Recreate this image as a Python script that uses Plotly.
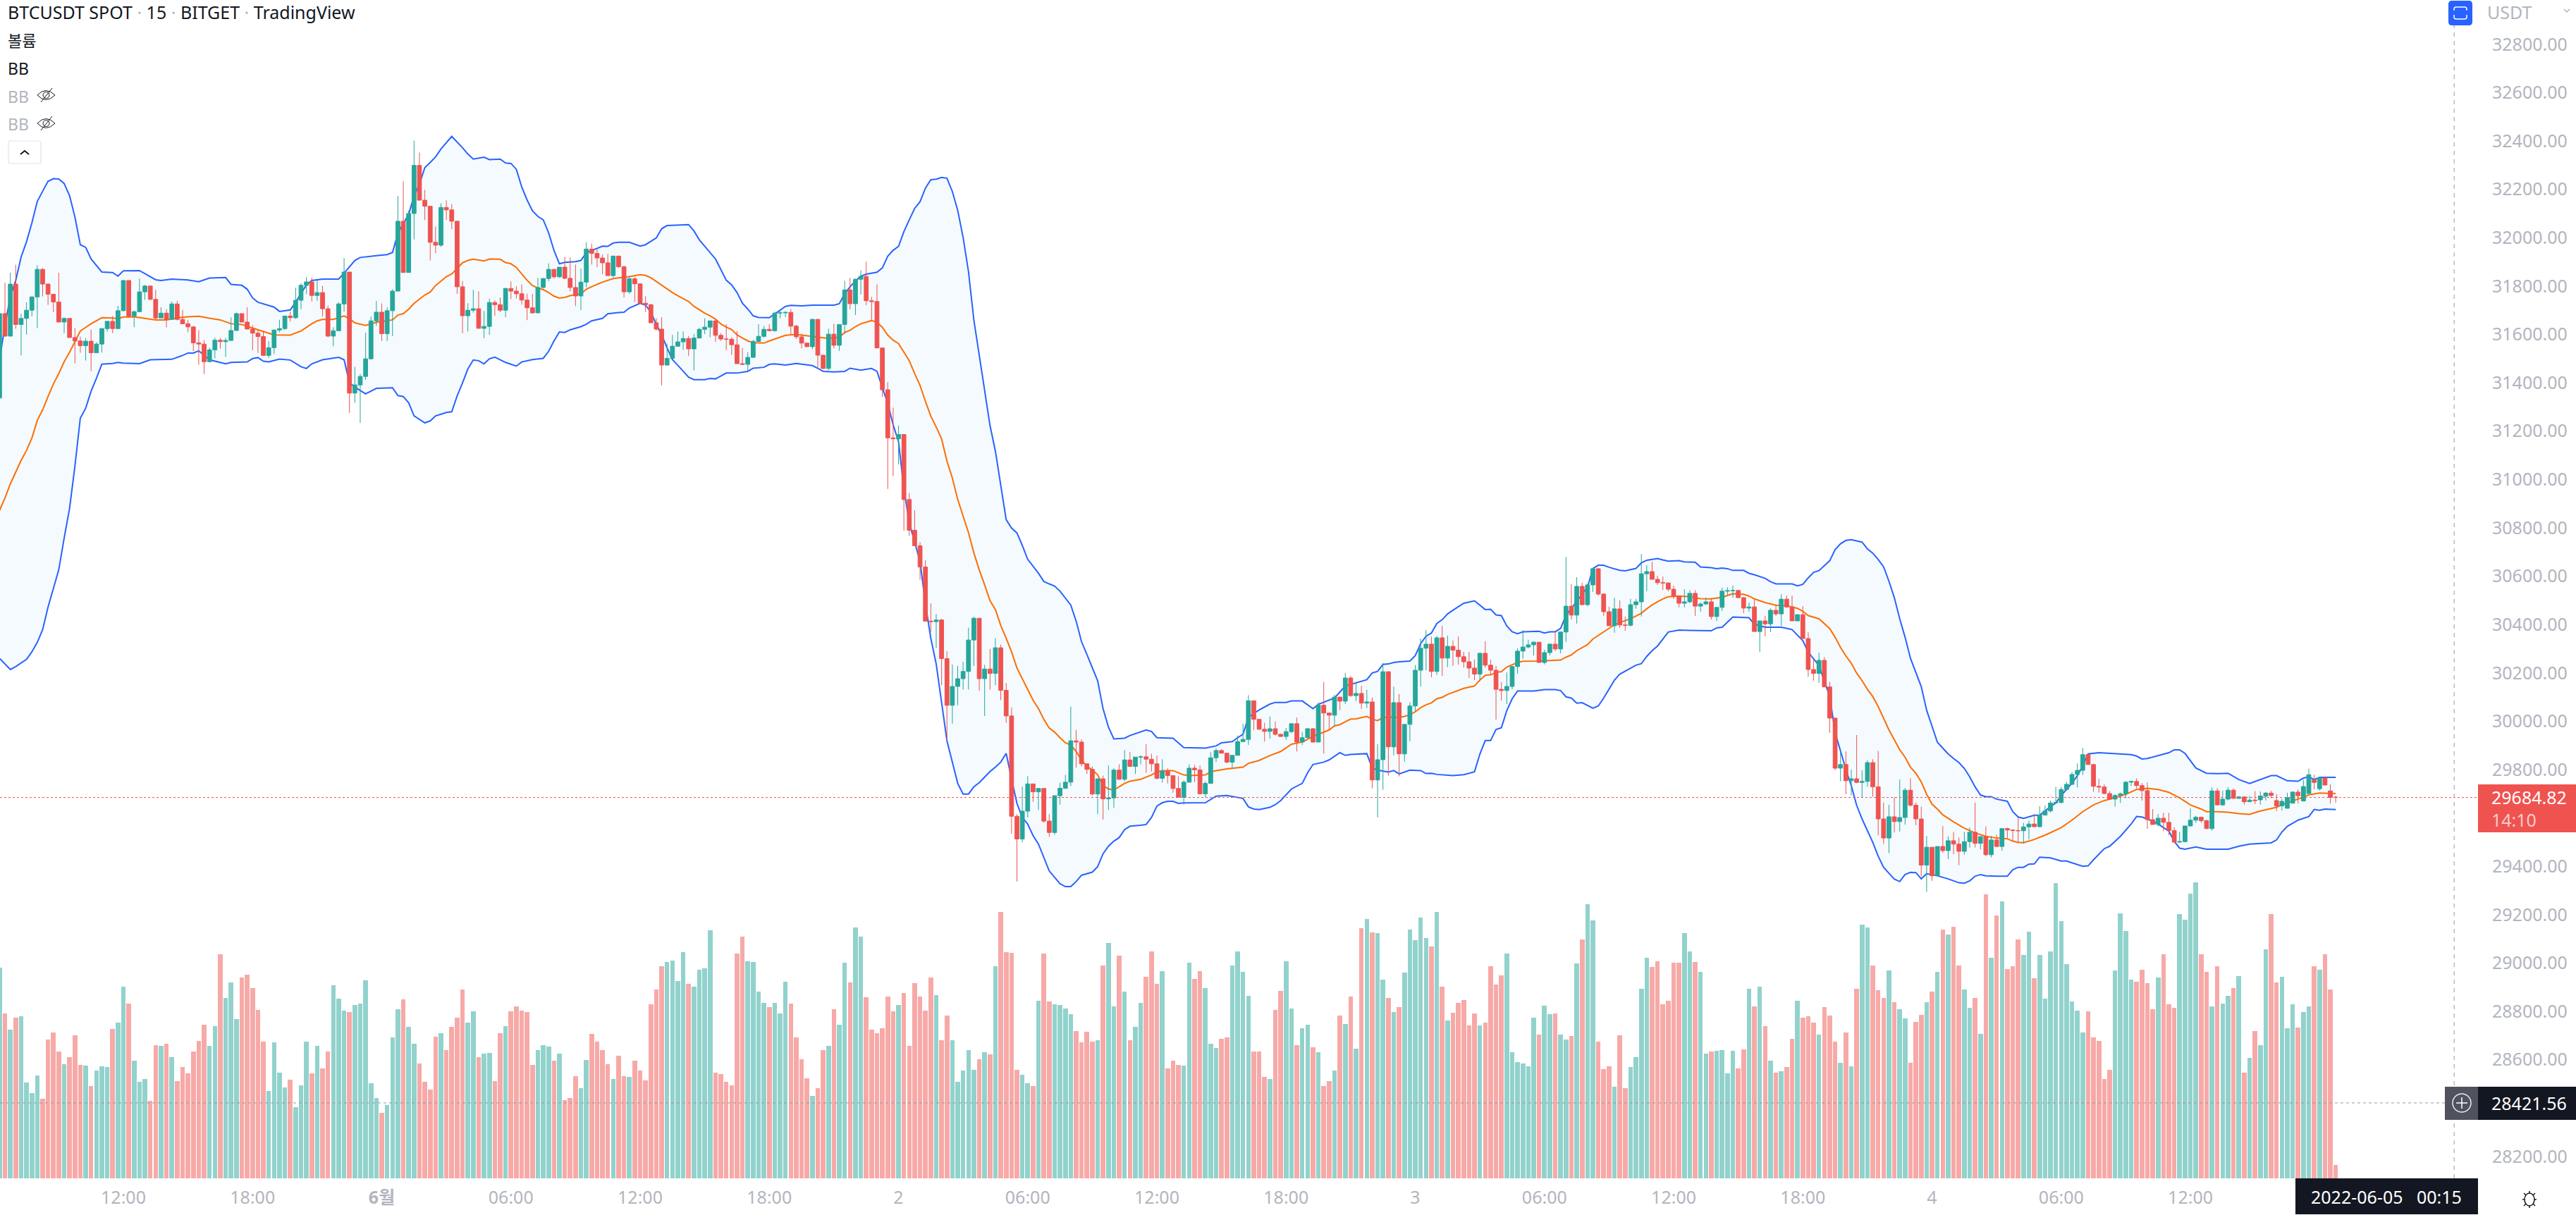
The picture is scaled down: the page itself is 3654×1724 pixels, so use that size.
import pandas as pd
import plotly.graph_objects as go

# 15-minute BTCUSDT bars, first bar opens at 06:15 on 31 May 2022
FIRST_BAR = "2022-05-31 06:15"
FIRST_OPEN = 31337
OPEN_GAPS = {420: 29675, 421: 29690, 422: 29703, 423: 29672, 424: 29650, 425: 29640, 426: 29661,
             427: 29707, 428: 29670, 429: 29701, 430: 29757, 431: 29721, 432: 29766, 433: 29712,
             434: 29686}

closes = [
31686,31593,31808,31641,31666,31700,31755,31869,31808,31766,
31734,31651,31666,31587,31573,31553,31572,31524,31560,31624,
31654,31624,31698,31823,31676,31694,31776,31800,31745,31668,
31688,31662,31726,31662,31644,31631,31565,31560,31487,31536,
31576,31570,31575,31616,31686,31651,31622,31605,31591,31513,
31545,31618,31624,31676,31669,31741,31803,31817,31761,31773,
31706,31593,31615,31726,31858,31357,31391,31426,31499,31656,
31692,31603,31698,31779,32068,31856,32100,32299,32155,32130,
31981,31969,32125,32115,32068,31797,31677,31700,31706,31625,
31633,31732,31723,31700,31790,31779,31768,31742,31710,31689,
31794,31831,31869,31838,31878,31832,31794,31759,31816,31953,
31935,31916,31896,31843,31924,31880,31776,31830,31809,31729,
31723,31648,31622,31473,31501,31551,31569,31583,31540,31585,
31621,31630,31656,31596,31581,31580,31557,31479,31476,31505,
31571,31592,31621,31615,31688,31689,31691,31634,31590,31564,
31549,31662,31514,31459,31601,31555,31641,31784,31727,31828,
31840,31739,31736,31544,31371,31172,31168,31186,30917,30790,
30726,30638,30414,30412,30419,30259,30066,30144,30176,30206,
30336,30426,30176,30216,30198,30304,30128,30022,29607,29513,
29628,29741,29708,29722,29587,29540,29692,29723,29748,29919,
29914,29824,29801,29699,29762,29679,29683,29798,29760,29840,
29813,29852,29853,29843,29824,29764,29794,29775,29722,29686,
29748,29806,29799,29700,29743,29849,29879,29868,29831,29859,
29916,29925,30085,30008,29967,29958,29969,29946,29937,29957,
29990,29914,29932,29969,29914,30066,30034,30025,30100,30083,
30179,30106,30115,30075,30080,29757,29841,30205,29894,30077,
29865,29987,30063,30211,30302,30319,30206,30345,30261,30310,
30294,30267,30246,30220,30195,30281,30232,30211,30132,30127,
30144,30226,30290,30307,30316,30327,30243,30284,30319,30299,
30369,30476,30439,30558,30482,30564,30631,30526,30453,30395,
30465,30398,30397,30482,30494,30610,30619,30587,30573,30572,
30546,30517,30488,30494,30529,30476,30485,30494,30433,30471,
30538,30540,30541,30511,30468,30473,30371,30415,30403,30459,
30444,30505,30473,30415,30441,30342,30214,30198,30252,30142,
30013,29806,29821,29754,29762,29747,29751,29829,29729,29596,
29517,29605,29585,29602,29715,29653,29596,29405,29479,29361,
29482,29465,29506,29492,29462,29502,29541,29495,29523,29448,
29509,29482,29556,29550,29548,29547,29563,29575,29564,29612,
29629,29662,29664,29718,29739,29780,29797,29862,29821,29731,
29728,29701,29678,29693,29700,29748,29751,29734,29713,29593,
29573,29599,29582,29548,29500,29502,29567,29591,29603,29589,
29556,29712,29654,29678,29715,29681,29687,29667,29674,29672,
29691,29703,29693,29650,29669,29684,29707,29692,29730,29779,
29747,29767,29736,29685,29684.82]

highs = [
31700,31814,31855,31888,31686,31733,31757,31886,31874,31811,
31767,31855,31670,31666,31626,31591,31585,31620,31567,31626,
31656,31676,31718,31823,31823,31698,31831,31805,31802,31785,
31712,31704,31736,31739,31701,31660,31634,31617,31576,31545,
31586,31585,31585,31670,31690,31686,31712,31638,31617,31614,
31572,31620,31660,31678,31694,31793,31811,31837,31835,31823,
31801,31719,31629,31733,31916,31858,31466,31436,31607,31674,
31738,31728,31712,31787,32173,32233,32112,32402,32352,32198,
32132,32046,32142,32154,32139,32070,31821,31729,31784,31778,
31697,31748,31741,31752,31792,31819,31799,31807,31768,31768,
31833,31833,31894,31869,31878,31920,31918,31889,31872,31981,
31976,31952,31930,31933,31924,31924,31883,31841,31836,31811,
31758,31726,31666,31671,31562,31598,31612,31612,31593,31601,
31627,31667,31656,31661,31605,31642,31588,31614,31544,31527,
31578,31642,31634,31642,31693,31700,31695,31705,31640,31603,
31564,31665,31665,31516,31624,31644,31641,31822,31834,31831,
31865,31901,31755,31807,31545,31403,31297,31223,31186,30944,
30873,30741,30666,30488,30444,30423,30290,30234,30229,30246,
30387,30432,30426,30234,30299,30343,30317,30158,30057,29616,
29730,29773,29741,29722,29722,29616,29692,29746,29778,30061,
29964,29925,29824,29813,29762,29775,29817,29806,29822,29881,
29873,29852,29858,29905,29866,29858,29843,29805,29776,29773,
29755,29822,29819,29817,29752,29872,29888,29884,29870,29859,
29941,29990,30108,30085,30009,29994,30020,29999,29948,29972,
29990,30015,29955,29972,29972,30078,30163,30036,30110,30100,
30200,30187,30156,30146,30130,30098,29905,30241,30205,30143,
30112,29987,30078,30232,30342,30377,30350,30353,30395,30354,
30334,30351,30287,30287,30255,30284,30331,30255,30229,30162,
30202,30229,30302,30377,30337,30331,30327,30296,30321,30374,
30371,30680,30567,30596,30573,30569,30634,30634,30529,30473,
30511,30500,30433,30506,30506,30692,30645,30660,30602,30599,
30575,30561,30520,30546,30542,30542,30491,30511,30509,30471,
30552,30554,30561,30542,30514,30491,30503,30415,30436,30467,
30481,30526,30520,30520,30441,30476,30368,30255,30283,30265,
30163,30016,29877,29875,29800,29943,29797,29839,29843,29877,
29664,29654,29686,29759,29724,29764,29664,29647,29526,29479,
29482,29567,29524,29542,29519,29543,29560,29664,29524,29565,
29526,29531,29558,29560,29553,29601,29580,29589,29616,29649,
29652,29672,29729,29729,29749,29790,29826,29890,29865,29824,
29762,29739,29711,29698,29705,29752,29754,29764,29744,29747,
29637,29616,29621,29621,29562,29542,29567,29640,29609,29603,
29593,29726,29724,29713,29727,29722,29691,29688,29691,29711,
29710,29707,29712,29699,29679,29704,29710,29718,29757,29804,
29779,29767,29766,29739,29692]

lows = [
31330,31590,31591,31623,31513,31599,31674,31626,31757,31722,
31692,31651,31605,31587,31480,31524,31492,31448,31524,31525,
31611,31605,31624,31695,31668,31630,31692,31743,31742,31659,
31668,31629,31662,31658,31644,31609,31531,31474,31436,31486,
31501,31541,31507,31572,31615,31650,31622,31534,31523,31513,
31503,31519,31609,31618,31653,31664,31704,31767,31736,31739,
31674,31588,31551,31615,31694,31275,31317,31234,31412,31498,
31635,31573,31573,31593,31778,31856,31856,31993,32155,32073,
31906,31936,31962,32074,32035,31768,31605,31612,31690,31625,
31584,31598,31677,31692,31671,31746,31748,31723,31659,31686,
31689,31790,31820,31831,31834,31828,31778,31717,31700,31794,
31889,31878,31849,31843,31836,31875,31753,31768,31734,31729,
31692,31648,31615,31389,31473,31500,31549,31535,31510,31450,
31583,31601,31588,31569,31573,31535,31515,31479,31476,31447,
31503,31569,31587,31615,31612,31666,31671,31601,31581,31542,
31549,31538,31464,31457,31452,31542,31532,31603,31703,31680,
31765,31721,31656,31544,31342,30961,31014,31062,30788,30767,
30726,30585,30414,30370,30303,30149,29919,29990,30066,30131,
30131,30229,30126,30022,30131,30149,30087,29994,29535,29337,
29499,29602,29667,29633,29580,29522,29531,29655,29720,29732,
29808,29813,29782,29693,29616,29593,29633,29642,29757,29752,
29813,29782,29822,29787,29792,29760,29746,29743,29704,29685,
29655,29746,29748,29700,29686,29743,29831,29866,29826,29808,
29858,29914,29902,29964,29964,29916,29928,29941,29935,29923,
29951,29875,29902,29930,29911,29914,29866,29964,29981,30046,
30071,30101,30083,30051,30054,29723,29602,29717,29775,29859,
29772,29833,29917,30041,30144,30211,30182,30192,30188,30224,
30229,30234,30222,30179,30170,30170,30222,30194,30007,30086,
30071,30132,30197,30258,30302,30272,30243,30235,30272,30290,
30281,30328,30421,30404,30482,30476,30535,30520,30436,30395,
30366,30386,30374,30392,30465,30433,30538,30587,30564,30543,
30537,30506,30471,30471,30488,30436,30453,30481,30421,30415,
30456,30523,30511,30511,30447,30453,30371,30287,30351,30369,
30436,30395,30468,30415,30415,30342,30184,30168,30158,30142,
29952,29797,29752,29698,29693,29744,29686,29729,29688,29529,
29492,29455,29540,29544,29572,29647,29570,29358,29294,29340,
29358,29456,29430,29450,29405,29448,29478,29478,29470,29442,
29437,29480,29465,29516,29504,29496,29494,29511,29562,29562,
29624,29623,29660,29660,29713,29737,29726,29778,29821,29708,
29705,29698,29674,29647,29662,29681,29732,29722,29672,29555,
29573,29565,29545,29529,29499,29497,29499,29565,29580,29580,
29554,29548,29652,29650,29673,29681,29679,29655,29667,29657,
29655,29672,29682,29629,29631,29640,29661,29660,29670,29701,
29718,29713,29736,29660,29664]

volumes = [
896,701,633,684,690,408,363,438,339,591,621,540,486,516,609,483,480,393,459,477,
474,636,663,816,744,501,411,423,330,567,564,573,516,414,474,447,540,585,654,564,
648,954,768,834,678,855,867,810,717,582,372,579,450,387,420,303,396,582,447,564,
468,540,822,765,714,708,738,744,843,405,342,279,312,600,720,762,645,573,489,411,
378,603,618,546,645,684,804,663,711,516,531,534,414,618,648,711,732,714,708,483,
546,567,561,501,531,333,342,435,384,504,615,582,546,486,423,522,435,432,501,459,
417,741,804,903,921,927,840,963,828,816,888,894,1056,450,444,411,396,957,1029,924,
921,795,747,729,747,702,837,744,600,507,426,351,384,546,564,720,654,918,834,1068,
1029,771,633,618,639,774,711,738,789,564,831,774,714,855,780,588,693,588,411,459,
546,462,507,537,528,903,1134,963,960,462,441,405,393,756,957,753,741,738,723,699,
627,579,624,582,588,906,1002,732,948,795,588,645,747,858,966,828,882,468,501,483,
480,918,849,882,810,573,555,594,600,906,966,879,777,540,540,432,423,717,798,924,
723,567,639,654,558,537,393,414,459,693,657,774,552,1065,1104,1047,1044,846,768,708,
729,876,1059,1014,1110,1023,987,1134,816,672,705,747,759,651,702,651,663,903,825,864,
957,537,495,489,477,684,612,735,699,702,612,591,606,915,1017,1167,1098,582,465,477,
390,609,384,474,516,807,939,900,924,741,756,918,918,1044,966,921,879,531,540,543,
546,447,543,468,549,807,732,816,648,501,450,456,474,594,756,684,690,663,612,729,
693,582,492,621,477,807,1080,1068,906,801,768,885,750,720,681,492,666,696,750,795,
879,1059,1038,1071,906,804,726,768,615,1209,939,1119,1179,891,903,1017,951,1050,852,951,
765,966,1257,1095,912,753,714,621,711,600,585,423,462,885,1128,1053,846,837,888,831,
720,855,954,741,726,1125,1101,1212,1261,954,879,732,903,744,777,810,861,450,513,627,
567,975,1125,834,858,639,741,642,708,732,903,888,954,804,57]

# Bollinger band vertices, as (bar number, price) pairs kept in parallel lists
bb_upper_bars = [0,1,2,3,4,5,6,7,8,9,10,11,12,13,14,15,16,17,19,21,22,23,26,29,30,32,35,37,39,42,43,45,46,47,48,51,52,54,55,57,58,60,63,64,66,67,70,72,73,74,76,77,78,79,80,81,
82,84,86,87,88,90,91,93,94,95,96,97,98,99,100,101,102,103,104,105,107,108,109,111,112,113,114,115,117,119,120,122,123,124,128,129,130,133,134,135,136,137,138,139,140,141,143,144,146,147,149,151,153,155,156,157,158,159,160,161,163,164,165,166,167,
168,169,170,171,172,173,174,175,176,177,178,179,180,181,182,183,184,185,186,187,188,189,190,191,193,194,195,196,197,199,200,201,202,204,205,206,207,209,210,213,214,215,218,220,224,226,227,229,230,231,232,234,236,237,239,240,242,244,245,247,248,
250,252,254,255,256,257,258,259,260,262,263,264,265,266,267,268,269,270,272,274,276,277,278,279,280,281,282,283,286,287,288,289,290,291,292,293,295,296,297,298,299,301,302,304,305,306,308,309,310,312,313,315,316,318,319,320,321,322,324,325,326,328,329,330,332,333,
334,335,336,337,338,339,340,341,342,343,344,345,346,347,348,349,350,351,352,353,354,355,356,357,358,359,360,361,362,363,364,365,366,367,368,369,370,371,373,374,375,376,378,379,381,382,383,385,386,387,388,390,393,396,397,398,399,401,403,404,405,406,408,410,412,414,416,418,420,422,423,425,427,428,429,430,431,434]
bb_upper = [31495,31638,31757,31823,31920,31983,32061,32150,32192,32233,32244,32243,32224,32174,32085,31971,31960,31912,31858,31856,31841,31863,31864,31826,31823,31829,31825,31818,31833,31835,31807,31803,31787,31751,31733,31713,31695,31701,31733,31805,31823,31829,31829,31853,31906,31918,31926,31930,31939,32019,32096,32174,32221,32290,32311,32334,
32367,32419,32372,32346,32325,32333,32323,32325,32309,32307,32283,32210,32156,32111,32088,32074,32020,31947,31892,31898,31901,31906,31938,31957,31965,31964,31978,31981,31981,31965,31971,31999,32037,32050,32054,32028,31991,31912,31868,31824,31805,31773,31729,31705,31677,31670,31669,31685,31716,31720,31718,31721,31720,31721,31727,31768,31797,31821,31841,31849,31857,31875,31923,31948,31964,
32025,32074,32121,32149,32205,32240,32242,32249,32246,32191,32113,32001,31860,31659,31509,31359,31223,31117,30970,30834,30799,30779,30727,30670,30612,30578,30568,30559,30538,30481,30414,30329,30276,30167,30052,29976,29927,29930,29941,29964,29958,29932,29930,29891,29889,29898,29911,29916,29932,29946,30017,30047,30071,30078,30078,30084,30084,30052,30070,30087,30096,
30146,30158,30172,30200,30206,30235,30237,30243,30246,30249,30272,30321,30352,30365,30404,30420,30444,30459,30488,30498,30462,30463,30440,30437,30394,30370,30362,30370,30372,30365,30370,30370,30384,30438,30467,30496,30554,30632,30645,30645,30637,30624,30622,30632,30655,30666,30673,30667,30662,30664,30659,30658,30638,30635,30631,30634,30631,30624,30624,30612,30606,30591,30577,30568,30567,30568,
30560,30566,30593,30616,30623,30644,30664,30710,30734,30748,30751,30746,30741,30713,30695,30669,30639,30579,30511,30424,30347,30260,30199,30143,30046,29979,29913,29889,29865,29846,29829,29805,29770,29729,29695,29688,29688,29678,29669,29626,29604,29598,29611,29611,29647,29662,29693,29744,29775,29816,29865,29870,29865,29862,29856,29844,29846,29859,29870,29882,29882,29867,29807,29785,29783,29785,29759,29743,29759,29775,29775,29754,29752,29765,29770,29759,29768,29768]

bb_basis_bars = [0,1,2,3,4,5,6,7,8,9,10,11,12,13,14,15,16,17,19,21,22,23,25,27,29,31,33,35,37,39,41,43,45,47,49,51,54,56,58,59,60,62,64,65,66,68,70,72,73,74,75,76,77,79,80,81,
82,83,84,85,86,87,88,90,91,93,94,95,96,97,98,99,100,101,102,103,104,105,106,108,109,111,112,114,116,117,119,120,121,122,123,125,126,127,128,129,130,131,132,133,134,135,136,137,138,139,140,142,143,145,146,148,150,152,154,156,157,158,159,160,161,162,
163,164,165,166,167,168,169,170,171,172,173,174,175,176,177,178,179,180,181,182,183,184,185,186,187,188,189,190,191,192,193,194,195,196,197,198,199,200,201,202,203,204,205,206,207,208,209,210,212,213,214,215,216,218,219,220,221,224,225,226,228,231,232,234,236,238,240,242,244,246,247,248,
249,250,251,252,254,255,256,257,258,260,261,262,263,264,265,266,267,268,269,272,274,275,276,277,278,279,280,282,283,286,288,290,291,292,293,294,295,296,297,298,299,300,301,303,304,305,306,307,308,309,310,312,314,315,316,318,320,322,324,325,326,328,330,332,334,
335,336,338,339,340,341,342,343,344,345,346,347,348,349,350,351,352,353,354,355,356,357,358,359,360,361,363,365,367,369,371,373,374,375,376,378,380,383,385,387,389,391,393,395,397,399,401,403,405,407,409,410,412,414,416,418,420,423,425,427,429,431,434]
bb_basis = [30872,30923,30982,31030,31079,31120,31171,31244,31288,31343,31395,31438,31487,31526,31569,31614,31629,31644,31669,31668,31665,31672,31673,31667,31660,31660,31668,31673,31675,31667,31660,31644,31641,31626,31612,31598,31597,31614,31644,31656,31662,31662,31676,31665,31648,31637,31650,31656,31660,31680,31686,31704,31728,31763,31775,31802,
31821,31839,31850,31873,31896,31906,31911,31904,31912,31911,31897,31892,31877,31850,31824,31802,31792,31785,31773,31758,31750,31753,31760,31768,31787,31807,31816,31831,31836,31839,31847,31844,31834,31819,31802,31773,31760,31748,31736,31716,31702,31688,31677,31663,31643,31630,31620,31598,31585,31573,31566,31564,31573,31588,31596,31600,31595,31588,31583,31588,31608,31617,31632,31644,31651,31657,
31650,31629,31597,31576,31562,31527,31491,31438,31389,31323,31262,31217,31168,31076,31006,30917,30847,30780,30696,30626,30564,30499,30462,30396,30343,30287,30220,30176,30135,30087,30052,30008,29972,29955,29932,29911,29902,29875,29840,29813,29799,29778,29734,29720,29716,29729,29743,29752,29760,29769,29778,29791,29796,29796,29787,29778,29775,29778,29791,29796,29803,29810,29826,29838,29858,29875,29905,29914,29937,29955,29964,29981,
29986,29998,30009,30010,30020,30008,30003,30015,30017,30016,30020,30027,30039,30056,30068,30076,30093,30099,30111,30136,30146,30170,30190,30192,30202,30205,30224,30243,30248,30249,30250,30253,30265,30274,30292,30305,30317,30340,30355,30369,30384,30399,30408,30424,30435,30447,30465,30481,30494,30506,30515,30518,30515,30510,30507,30506,30513,30527,30525,30518,30506,30491,30480,30478,30467,
30455,30437,30424,30403,30383,30347,30306,30270,30240,30199,30168,30132,30102,30061,30010,29964,29923,29882,29851,29810,29785,29749,29698,29657,29637,29613,29584,29558,29538,29524,29517,29514,29504,29499,29498,29511,29529,29560,29591,29626,29654,29672,29683,29698,29718,29723,29718,29706,29683,29654,29637,29626,29626,29624,29618,29615,29629,29644,29664,29678,29696,29703,29701]

bb_lower_bars = [0,1,2,3,4,5,6,7,8,9,10,11,12,13,14,15,16,17,18,19,21,22,23,26,28,32,34,35,36,37,39,42,43,46,47,48,49,50,52,54,56,57,58,60,63,64,65,66,68,70,73,74,75,76,77,79,80,81,
82,83,84,85,86,87,88,89,90,91,92,94,96,97,99,101,102,103,104,105,106,108,109,110,112,113,115,116,117,119,120,121,122,123,124,125,126,127,128,129,131,132,133,135,137,139,140,142,143,144,146,148,150,151,152,153,155,157,158,160,162,163,164,
165,166,167,168,169,170,171,172,173,174,175,176,177,178,179,180,181,182,184,185,186,187,188,189,190,191,192,193,195,197,198,199,200,201,203,204,205,206,207,208,209,210,212,213,214,215,216,217,218,219,220,224,226,228,231,232,233,234,236,237,238,240,242,243,244,246,247,249,
250,251,254,255,256,257,258,259,260,262,264,265,266,267,269,270,272,274,275,276,277,278,279,280,281,282,285,287,289,290,291,292,293,294,296,297,298,300,301,302,304,305,306,307,308,310,312,314,318,319,320,322,325,326,328,331,333,335,
336,338,339,340,341,342,343,344,345,346,347,348,349,350,351,352,353,354,355,356,357,358,360,362,364,365,366,367,368,369,371,373,374,375,376,377,378,379,381,383,384,387,388,389,391,392,394,396,397,398,399,401,403,404,405,406,408,410,414,416,418,420,422,423,424,425,427,429,430,431,432,434]
bb_lower = [30260,30238,30214,30226,30240,30256,30287,30326,30379,30472,30549,30627,30758,30880,31055,31254,31295,31365,31419,31477,31480,31484,31481,31479,31495,31497,31513,31523,31523,31532,31495,31478,31484,31486,31500,31504,31489,31486,31498,31494,31466,31459,31478,31495,31505,31495,31400,31382,31354,31377,31379,31347,31343,31317,31263,31234,31242,31263,
31270,31277,31280,31345,31399,31457,31494,31491,31478,31499,31506,31484,31469,31486,31496,31501,31530,31573,31610,31608,31619,31632,31642,31656,31666,31685,31690,31692,31709,31729,31721,31692,31641,31598,31544,31496,31472,31447,31423,31413,31413,31418,31416,31440,31440,31447,31460,31464,31476,31478,31473,31480,31474,31471,31460,31447,31445,31447,31460,31452,31459,31447,31379,
31315,31226,31156,30961,30820,30741,30661,30485,30343,30237,30078,29919,29831,29743,29699,29699,29729,29746,29792,29810,29831,29867,29761,29660,29602,29575,29527,29492,29381,29328,29316,29316,29337,29363,29376,29399,29452,29483,29504,29519,29552,29566,29570,29573,29602,29649,29663,29669,29669,29660,29662,29663,29690,29693,29681,29646,29637,29635,29644,29655,29672,29720,29743,29787,29821,29831,29840,29870,
29859,29863,29866,29806,29798,29794,29790,29796,29782,29798,29796,29784,29785,29780,29778,29775,29779,29791,29864,29920,29920,29966,29973,30044,30093,30125,30125,30131,30131,30127,30101,30096,30075,30077,30054,30063,30096,30170,30195,30207,30232,30238,30268,30292,30311,30369,30377,30376,30374,30386,30389,30431,30428,30401,30389,30389,30379,30333,
30286,30230,30163,30102,29954,29877,29800,29734,29652,29596,29550,29499,29442,29396,29371,29347,29337,29366,29375,29374,29348,29369,29361,29348,29332,29330,29340,29359,29366,29361,29359,29359,29386,29396,29396,29409,29410,29438,29435,29422,29422,29400,29402,29427,29473,29483,29524,29575,29606,29604,29596,29575,29545,29504,29475,29471,29480,29471,29471,29483,29492,29494,29497,29509,29542,29565,29591,29606,29635,29632,29637,29635]

# Axis labels
price_ticks = [28200, 28600, 28800, 29000, 29200, 29400, 29800, 30000, 30200, 30400, 30600, 30800,
               31000, 31200, 31400, 31600, 31800, 32000, 32200, 32400, 32600, 32800]
time_ticks = ["2022-05-31 12:00", "2022-05-31 18:00", "2022-06-01 00:00", "2022-06-01 06:00",
              "2022-06-01 12:00", "2022-06-01 18:00", "2022-06-02 00:00", "2022-06-02 06:00",
              "2022-06-02 12:00", "2022-06-02 18:00", "2022-06-03 00:00", "2022-06-03 06:00",
              "2022-06-03 12:00", "2022-06-03 18:00", "2022-06-04 00:00", "2022-06-04 06:00",
              "2022-06-04 12:00"]
time_labels = ["12:00", "18:00", "<b>6월</b>", "06:00", "12:00", "18:00", "2", "06:00", "12:00", "18:00",
               "3", "06:00", "12:00", "18:00", "4", "06:00", "12:00"]

LAST_PRICE = 29684.82
CROSS_PRICE = 28421.56
CROSS_TIME = "2022-06-05 00:15"

UP, DOWN = "#26a69a", "#ef5350"
BAND_BLUE, BASIS_ORANGE = "#2962ff", "#ff6d00"
GREY_TEXT, DARK_TEXT, DARK_BOX = "#b2b5be", "#131722", "#131722"
FONT = "Noto Sans, Noto Sans CJK KR, sans-serif"

# Figure geometry: the price pane fills everything left of the scale and above the time strip
WIDTH, HEIGHT = 3654, 1724
PANE_W, PANE_H = 3514, 1672
PRICE_TOP, PRICE_BOTTOM = 32983, 28109.5
VOLUME_TOP = 5016
BAR_MIN = pd.Timedelta(minutes=15)

t0 = pd.Timestamp(FIRST_BAR)
times = [t0 + i * BAR_MIN for i in range(len(closes))]
opens = [FIRST_OPEN] + closes[:-1]
for i, v in OPEN_GAPS.items():
    opens[i] = v
highs = [max(h, o, c) for h, o, c in zip(highs, opens, closes)]
lows = [min(l, o, c) for l, o, c in zip(lows, opens, closes)]
vol_colors = ["rgba(38,166,154,0.5)" if c >= o else "rgba(239,83,80,0.5)" for o, c in zip(opens, closes)]


def bar_time(i):
    return t0 + i * BAR_MIN


upper_t = [bar_time(i) for i in bb_upper_bars]
basis_t = [bar_time(i) for i in bb_basis_bars]
lower_t = [bar_time(i) for i in bb_lower_bars]


def fx(x):
    return x / PANE_W


def fy(y):
    return 1 - y / PANE_H


def draw(*parts):
    """Build an SVG path in paper units from pixel tuples and command letters."""
    out = []
    for p in parts:
        out.append(p if isinstance(p, str) else f"{fx(p[0]):.6f},{fy(p[1]):.6f}")
    return " ".join(out)


fig = go.Figure()

fig.add_trace(go.Bar(x=times, y=volumes, marker=dict(color=vol_colors, line_width=0),
                     width=0.86 * 900000, yaxis="y", hoverinfo="skip", showlegend=False))

fig.add_trace(go.Scatter(x=upper_t + lower_t[::-1], y=bb_upper + bb_lower[::-1], yaxis="y2",
                         mode="lines", line=dict(width=0), fill="toself",
                         fillcolor="rgba(33,150,243,0.05)", hoverinfo="skip", showlegend=False))
for xs, ys, col in ((upper_t, bb_upper, BAND_BLUE), (lower_t, bb_lower, BAND_BLUE), (basis_t, bb_basis, BASIS_ORANGE)):
    fig.add_trace(go.Scatter(x=xs, y=ys, yaxis="y2", mode="lines", line=dict(color=col, width=2),
                             hoverinfo="skip", showlegend=False))

fig.add_trace(go.Candlestick(x=times, open=opens, high=highs, low=lows, close=closes, yaxis="y3",
                             whiskerwidth=0, showlegend=False,
                             increasing=dict(line=dict(color=UP, width=1), fillcolor=UP),
                             decreasing=dict(line=dict(color=DOWN, width=1), fillcolor=DOWN)))

shapes = [
    # last-price and crosshair guides
    dict(type="line", xref="paper", yref="y3", x0=0, x1=1, y0=LAST_PRICE, y1=LAST_PRICE,
         line=dict(color=DOWN, width=1, dash="dot")),
    dict(type="line", xref="paper", yref="y3", x0=0, x1=fx(3468), y0=CROSS_PRICE, y1=CROSS_PRICE,
         line=dict(color="#9598a1", width=1, dash="4px,4px")),
    dict(type="line", xref="x", yref="paper", x0=CROSS_TIME, x1=CROSS_TIME, y0=0, y1=fy(36),
         line=dict(color="#9598a1", width=1, dash="6px,6px")),
    # price scale boxes
    dict(type="rect", xref="paper", yref="paper", x0=fx(3515), x1=fx(3654), y0=fy(1113), y1=fy(1181),
         fillcolor=DOWN, line_width=0),
    dict(type="rect", xref="paper", yref="paper", x0=fx(3515), x1=fx(3654), y0=fy(1542), y1=fy(1589),
         fillcolor=DARK_BOX, line_width=0),
    dict(type="rect", xref="paper", yref="paper", x0=fx(3468), x1=fx(3515), y0=fy(1542), y1=fy(1589),
         fillcolor="#50535e", line_width=0),
    dict(type="circle", xref="paper", yref="paper", x0=fx(3479), x1=fx(3505), y0=fy(1552), y1=fy(1578),
         line=dict(color="#e8e9ee", width=1.5)),
    dict(type="path", xref="paper", yref="paper", line=dict(color="#ffffff", width=1.5),
         path=draw("M", (3484, 1565), "L", (3500, 1565), "M", (3492, 1557), "L", (3492, 1573))),
    # time scale box
    dict(type="rect", xref="paper", yref="paper", x0=fx(3256), x1=fx(3515), y0=fy(1672), y1=fy(1723),
         fillcolor=DARK_BOX, line_width=0),
    # auto-scale button
    dict(type="path", xref="paper", yref="paper", fillcolor=BAND_BLUE, line_width=0,
         path=draw("M", (3478, 1), "L", (3502, 1), "Q", (3507, 1), (3507, 6), "L", (3507, 31), "Q", (3507, 36), (3502, 36),
                   "L", (3478, 36), "Q", (3473, 36), (3473, 31), "L", (3473, 6), "Q", (3473, 1), (3478, 1), "Z")),
    dict(type="path", xref="paper", yref="paper", line=dict(color="#ffffff", width=1.5),
         path=draw("M", (3481, 15), "L", (3481, 13), "Q", (3481, 10), (3484, 10), "L", (3496, 10), "Q", (3499, 10), (3499, 13), "L", (3499, 15),
                   "M", (3481, 21), "L", (3481, 24), "Q", (3481, 27), (3484, 27), "L", (3496, 27), "Q", (3499, 27), (3499, 24), "L", (3499, 21))),
    # USDT chevron
    dict(type="path", xref="paper", yref="paper", line=dict(color=GREY_TEXT, width=1.5),
         path=draw("M", (3637, 13), "L", (3641, 17), "L", (3645, 13))),
    # legend collapse button
    dict(type="path", xref="paper", yref="paper", line=dict(color="#e0e3eb", width=1.2), fillcolor="#ffffff",
         path=draw("M", (15, 200), "L", (55, 200), "Q", (58, 200), (58, 203), "L", (58, 229), "Q", (58, 232), (55, 232),
                   "L", (15, 232), "Q", (12, 232), (12, 229), "L", (12, 203), "Q", (12, 200), (15, 200), "Z")),
    dict(type="path", xref="paper", yref="paper", line=dict(color=DARK_TEXT, width=2),
         path=draw("M", (29, 219), "L", (35, 214), "L", (41, 219))),
]

# Hidden-indicator eye marks
for cy in (135, 175):
    shapes.append(dict(type="path", xref="paper", yref="paper", line=dict(color=DARK_TEXT, width=1),
                       path=draw("M", (53, cy), "Q", (65, cy - 13), (78, cy), "Q", (65, cy + 13), (53, cy), "Z")))
    shapes.append(dict(type="circle", xref="paper", yref="paper", x0=fx(61), x1=fx(70), y0=fy(cy - 4.5), y1=fy(cy + 4.5),
                       line=dict(color=DARK_TEXT, width=1)))
    shapes.append(dict(type="path", xref="paper", yref="paper", line=dict(color=DARK_TEXT, width=1),
                       path=draw("M", (58, cy + 10), "L", (74, cy - 10))))

# Settings gear on the corner of the scales
gear_x, gear_y = 3588, 1702
shapes.append(dict(type="circle", xref="paper", yref="paper", x0=fx(gear_x - 7), x1=fx(gear_x + 7),
                   y0=fy(gear_y - 9), y1=fy(gear_y + 9), line=dict(color=DARK_TEXT, width=1.5)))
shapes.append(dict(type="path", xref="paper", yref="paper", line=dict(color=DARK_TEXT, width=1.5),
                   path=draw("M", (gear_x, gear_y - 12), "L", (gear_x, gear_y - 9),
                             "M", (gear_x, gear_y + 9), "L", (gear_x, gear_y + 12),
                             "M", (gear_x - 10, gear_y), "L", (gear_x - 7, gear_y),
                             "M", (gear_x + 7, gear_y), "L", (gear_x + 10, gear_y),
                             "M", (gear_x - 8, gear_y - 9), "L", (gear_x - 5, gear_y - 6),
                             "M", (gear_x + 8, gear_y - 9), "L", (gear_x + 5, gear_y - 6),
                             "M", (gear_x - 8, gear_y + 9), "L", (gear_x - 5, gear_y + 6),
                             "M", (gear_x + 8, gear_y + 9), "L", (gear_x + 5, gear_y + 6))))


def label(x, y, text, color=DARK_TEXT, size=25, anchor="left"):
    return dict(xref="paper", yref="paper", x=fx(x), y=fy(y), text=text, showarrow=False,
                xanchor=anchor, yanchor="middle", align=anchor,
                borderpad=0, borderwidth=0,
                font=dict(family=FONT, size=size, color=color))


dot = "<span style='color:#b2b5be'> · </span>"
annotations = [
    label(11, 17, f"BTCUSDT SPOT{dot}15{dot}BITGET{dot}TradingView", size=25),
    label(11, 57, "볼륨", size=22),
    label(11, 97, "BB", size=23),
    label(11, 137, "BB", color=GREY_TEXT, size=23),
    label(11, 176, "BB", color=GREY_TEXT, size=23),
    label(3528, 17, "USDT", color=GREY_TEXT),
    label(3534, 1131, f"{LAST_PRICE:.2f}", color="#ffffff"),
    label(3534, 1163, "14:10", color="rgba(255,255,255,0.7)"),
    label(3534, 1565, f"{CROSS_PRICE:.2f}", color="#ffffff"),
    label(3385, 1698, "2022-06-05 &nbsp; 00:15", color="#ffffff", anchor="center"),
]

axis_font = dict(family=FONT, size=25, color=GREY_TEXT)
fig.update_layout(
    width=WIDTH, height=HEIGHT, autosize=False,
    margin=dict(l=0, r=WIDTH - PANE_W, t=0, b=HEIGHT - PANE_H, pad=0),
    paper_bgcolor="#ffffff", plot_bgcolor="#ffffff",
    boxgap=0.25, boxgroupgap=0, bargap=0, showlegend=False, hovermode=False,
    font=dict(family=FONT),
    xaxis=dict(type="date", range=[bar_time(0.0786), bar_time(460.3)], rangeslider=dict(visible=False),
               showgrid=False, zeroline=False, showline=False, ticks="",
               tickmode="array", tickvals=time_ticks, ticktext=time_labels,
               tickfont=axis_font, ticklabelstandoff=10),
    yaxis=dict(range=[0, VOLUME_TOP], visible=False, fixedrange=True),
    yaxis2=dict(range=[PRICE_BOTTOM, PRICE_TOP], overlaying="y", visible=False),
    yaxis3=dict(range=[PRICE_BOTTOM, PRICE_TOP], overlaying="y", side="right", anchor="x",
                showgrid=False, zeroline=False, showline=False, ticks="",
                tickmode="array", tickvals=price_ticks, ticktext=[f"{p:.2f}" for p in price_ticks],
                tickfont=axis_font, ticklabelstandoff=20),
    shapes=shapes, annotations=annotations,
)

fig.write_html("out.html", config={"displayModeBar": False})
